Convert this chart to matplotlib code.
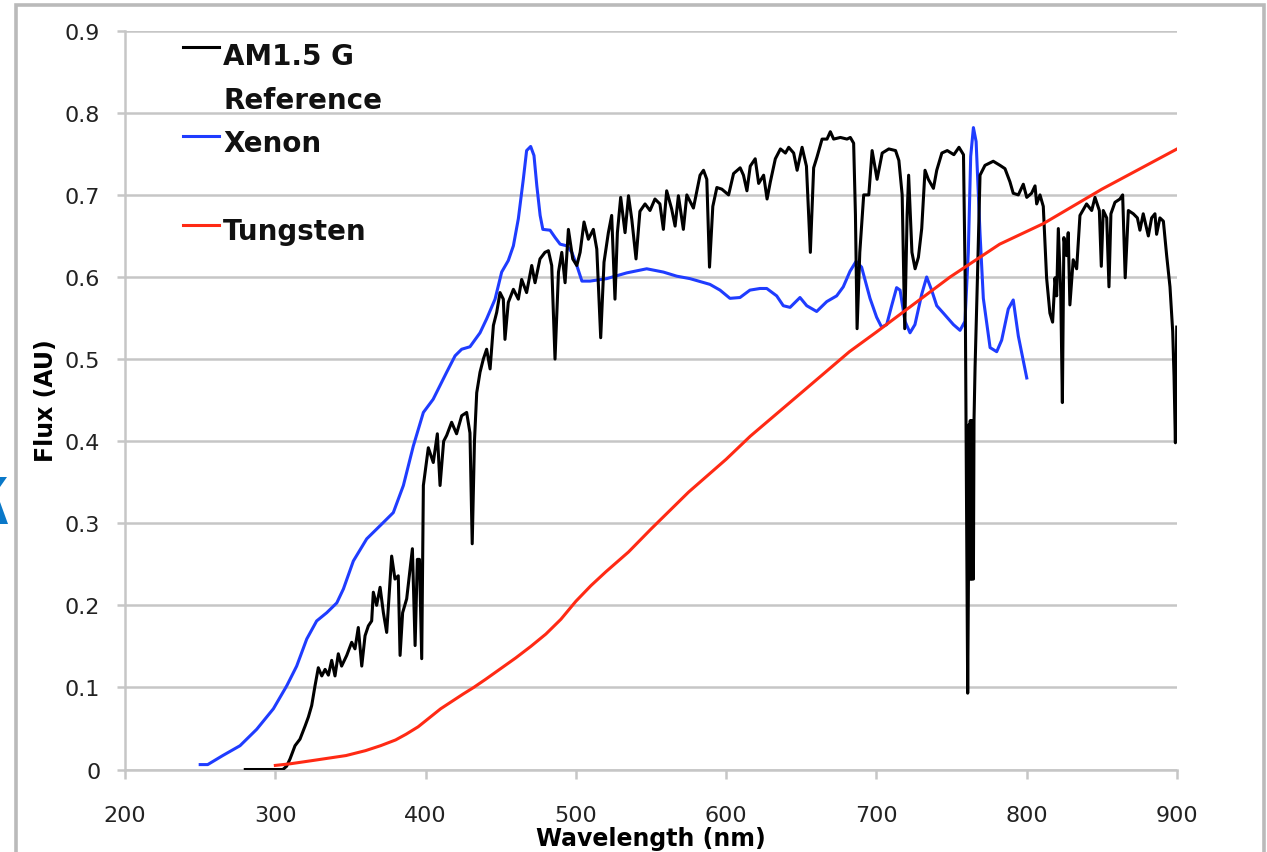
import matplotlib
matplotlib.use("Agg")
import matplotlib.pyplot as plt
from matplotlib.patches import Polygon

plt.rcParams['font.family'] = ['DejaVu Sans']

wl_ticks = [200, 300, 400, 500, 600, 700, 800, 900]
flux_ticks = [0, 0.1, 0.2, 0.3, 0.4, 0.5, 0.6, 0.7, 0.8, 0.9]
flux_tick_labels = ["0", "0.1", "0.2", "0.3", "0.4", "0.5", "0.6", "0.7", "0.8", "0.9"]

# AM1.5 G reference spectrum
am15_nm = [
    280, 305, 307.5, 309.8, 313.1, 316.4, 319.8, 322, 324.2, 326.4,
    328.6, 330.9, 333.1, 335.3, 337.5, 339.7, 341.9, 344.1, 347.5, 350.8,
    353, 355.2, 357.5, 359.7, 361.9, 364.1, 365.2, 367.4, 369.7, 371.9,
    374.1, 377.4, 379.6, 381.8, 383, 384.7, 387.4, 389.6, 391.2, 393,
    394.5, 395.9, 397.4, 398.5, 401.8, 405.1, 407.8, 409.6, 412, 414,
    417.3, 420.6, 424, 427.3, 429.5, 431, 432.5, 434, 436.2, 438.4,
    440.6, 442.9, 445.1, 447.3, 449.5, 451.7, 452.8, 455, 458.4, 461.7,
    463.9, 467.2, 470.6, 472.8, 476.1, 479.4, 481.7, 483.9, 486.1, 488.4,
    490.6, 492.8, 495, 497.9, 500.6, 502.8, 505.4, 508.3, 511.6, 513.9,
    516.5, 518.7, 521.6, 523.8, 526, 527.6, 529.8, 532.7, 535, 537.2,
    540, 542.6, 546, 549.3, 552.6, 555.9, 558.2, 560.4, 563.7, 566,
    568.2, 571.5, 573.8, 578.2, 582.6, 584.9, 587.1, 588.9, 591.1, 593.8,
    597.1, 601.6, 604.9, 609.3, 611.5, 613.8, 616, 619.3, 621.6, 624.9,
    627.2, 629.4, 632.7, 636.1, 639.4, 641.6, 644.9, 647.2, 650.5, 653.4,
    656, 658.2, 660.4, 663.8, 667.1, 669.3, 671.5, 676, 680.4, 682.6,
    684.8, 686, 687.1, 688.9, 691.5, 694.9, 697.1, 700.4, 703.8, 708.2,
    712.7, 714.9, 717.1, 718.8, 720.4, 721.4, 723.6, 725.7, 727.9, 730.1,
    732.3, 734.5, 737.9, 740.1, 743.5, 747.1, 751.5, 754.9, 757.9, 759,
    760.1, 760.7, 761.2, 761.6, 762, 762.4, 762.8, 763.2, 763.6, 764,
    764.5, 764.9, 765.6, 767.2, 768.9, 772.2, 777.7, 782.2, 785.5, 788.8,
    791, 794.4, 797.7, 800, 803.2, 805.5, 806.6, 808.8, 811, 813.2,
    815.4, 817.2, 818.8, 819.9, 821, 822.6, 823.7, 824.7, 826.5, 827.6,
    828.7, 830.9, 833.2, 835.4, 839.8, 843.2, 845.4, 848.3, 849.6, 850.9,
    853.2, 854.7, 856, 858.7, 862, 863.8, 865.5, 867.6, 870.9, 873.6,
    875.3, 877.5, 880.9, 883.1, 885.3, 886.4, 888.6, 890.9, 893.1, 895.3,
    897.1, 898, 898.9, 899.8,
]
am15_flux = [
    0, 0, 0.004, 0.013, 0.029, 0.037, 0.053, 0.064, 0.078, 0.102,
    0.124, 0.114, 0.122, 0.115, 0.133, 0.114, 0.141, 0.126, 0.139, 0.155,
    0.147, 0.173, 0.126, 0.163, 0.175, 0.181, 0.216, 0.200, 0.222, 0.191,
    0.167, 0.260, 0.232, 0.236, 0.139, 0.191, 0.208, 0.244, 0.269, 0.151,
    0.256, 0.256, 0.135, 0.346, 0.392, 0.374, 0.409, 0.346, 0.400, 0.407,
    0.423, 0.409, 0.431, 0.435, 0.410, 0.275, 0.400, 0.459, 0.484, 0.500,
    0.512, 0.488, 0.541, 0.557, 0.581, 0.573, 0.524, 0.569, 0.585, 0.573,
    0.597, 0.581, 0.614, 0.593, 0.622, 0.630, 0.632, 0.614, 0.500, 0.606,
    0.630, 0.593, 0.658, 0.622, 0.614, 0.630, 0.667, 0.646, 0.658, 0.634,
    0.526, 0.618, 0.654, 0.675, 0.573, 0.654, 0.697, 0.654, 0.699, 0.670,
    0.622, 0.680, 0.689, 0.681, 0.695, 0.689, 0.658, 0.705, 0.683, 0.662,
    0.699, 0.658, 0.700, 0.684, 0.724, 0.730, 0.719, 0.612, 0.686, 0.709,
    0.707, 0.700, 0.726, 0.733, 0.724, 0.705, 0.735, 0.744, 0.714, 0.724,
    0.695, 0.716, 0.744, 0.756, 0.751, 0.758, 0.751, 0.730, 0.758, 0.735,
    0.630, 0.733, 0.746, 0.768, 0.768, 0.777, 0.768, 0.770, 0.768, 0.770,
    0.763, 0.676, 0.537, 0.630, 0.700, 0.700, 0.754, 0.719, 0.751, 0.756,
    0.754, 0.742, 0.700, 0.537, 0.676, 0.724, 0.630, 0.610, 0.624, 0.659,
    0.730, 0.719, 0.708, 0.730, 0.751, 0.754, 0.749, 0.758, 0.749, 0.599,
    0.273, 0.093, 0.232, 0.420, 0.232, 0.425, 0.232, 0.425, 0.232, 0.425,
    0.232, 0.425, 0.490, 0.600, 0.724, 0.736, 0.741, 0.736, 0.732, 0.716,
    0.702, 0.700, 0.713, 0.697, 0.702, 0.711, 0.689, 0.700, 0.686, 0.599,
    0.556, 0.545, 0.599, 0.577, 0.659, 0.582, 0.447, 0.648, 0.626, 0.654,
    0.566, 0.621, 0.610, 0.675, 0.689, 0.681, 0.697, 0.681, 0.613, 0.681,
    0.672, 0.588, 0.677, 0.691, 0.695, 0.700, 0.599, 0.681, 0.677, 0.672,
    0.657, 0.677, 0.650, 0.672, 0.677, 0.652, 0.672, 0.668, 0.626, 0.588,
    0.534, 0.479, 0.398, 0.539,
]

# xenon arc lamp
xenon_nm = [
    250, 255, 265, 276.5, 287.6, 298.7, 307.6, 314.2, 320.9, 327.5,
    334.2, 340.9, 345.3, 351.9, 360.8, 371.9, 378.5, 385.2, 391.8, 398.5,
    405, 414, 419.6, 424, 429.5, 436.2, 440.6, 446.2, 450.6, 455,
    458.4, 461.7, 465, 467.2, 469.9, 472.1, 474, 476.2, 478, 482.8,
    486.2, 489.5, 493.9, 497.3, 500.6, 504, 509.4, 520.5, 533.8, 547.1,
    558.2, 567.1, 575.9, 589.2, 595.9, 602.5, 609.2, 615.8, 622.5, 627,
    633.6, 638, 642.5, 649.1, 653.6, 660.2, 666.9, 673.5, 677.9, 682.4,
    686.4, 690.1, 695.7, 700.1, 703.4, 706.8, 710.1, 713.4, 715.7, 719,
    722.3, 725.6, 730.1, 733.4, 736.7, 740.1, 744.5, 751.2, 755.6, 758.9,
    761.1, 762.7, 764.5, 766.3, 768.9, 771.1, 775.6, 780, 783.3, 787.7,
    791, 794.4, 800,
]
xenon_flux = [
    0.006, 0.006, 0.017, 0.029, 0.049, 0.074, 0.102, 0.126, 0.159, 0.181,
    0.191, 0.203, 0.220, 0.254, 0.281, 0.301, 0.313, 0.346, 0.394, 0.435,
    0.451, 0.484, 0.504, 0.512, 0.515, 0.532, 0.549, 0.573, 0.606, 0.620,
    0.638, 0.671, 0.719, 0.754, 0.759, 0.748, 0.711, 0.675, 0.658, 0.657,
    0.648, 0.640, 0.638, 0.630, 0.614, 0.595, 0.595, 0.598, 0.605, 0.610,
    0.606, 0.601, 0.598, 0.591, 0.584, 0.574, 0.575, 0.584, 0.586, 0.586,
    0.577, 0.565, 0.563, 0.575, 0.565, 0.558, 0.570, 0.577, 0.588, 0.607,
    0.619, 0.612, 0.574, 0.551, 0.539, 0.542, 0.565, 0.587, 0.584, 0.546,
    0.532, 0.542, 0.579, 0.600, 0.584, 0.565, 0.556, 0.542, 0.535, 0.546,
    0.630, 0.747, 0.782, 0.765, 0.653, 0.574, 0.514, 0.509, 0.523, 0.561,
    0.572, 0.528, 0.477,
]

# tungsten halogen lamp
tungsten_nm = [
    300, 310, 325, 347, 360, 370, 380, 387, 395, 410,
    425, 432, 440, 450, 460, 470, 480, 490, 500, 510,
    520, 535, 550, 575, 600, 616, 650, 682, 700, 749,
    782, 811, 850, 900,
]
tungsten_flux = [
    0.005, 0.007, 0.011, 0.017, 0.023, 0.029, 0.036, 0.043, 0.052, 0.074,
    0.092, 0.100, 0.110, 0.123, 0.136, 0.150, 0.165, 0.183, 0.205, 0.224,
    0.241, 0.265, 0.293, 0.338, 0.378, 0.406, 0.459, 0.509, 0.533, 0.600,
    0.640, 0.665, 0.707, 0.756,
]

black = '#000000'
blue = '#1f3cff'
red = '#ff2a14'
grid_gray = '#c6c6c6'

W, H = 1267, 853
fig = plt.figure(figsize=(12.67, 8.53), dpi=100)

# full-figure canvas in pixel units for the window frame
bg = fig.add_axes([0, 0, 1, 1], zorder=0)
bg.set_xlim(0, W)
bg.set_ylim(H, 0)
bg.axis('off')
bg.plot([16, 16, 1264, 1264], [H + 10, 6, 6, H + 10], color='#bababa',
        lw=2.6, solid_joinstyle='miter')
bg.add_patch(Polygon([(0, 478), (7, 478), (0, 488)], closed=True,
                     color='#0a78c8', lw=0))
bg.add_patch(Polygon([(0, 503), (0, 525), (8, 525)], closed=True,
                     color='#0a78c8', lw=0))

ax = fig.add_axes([0.0987, 0.0967, 0.8303, 0.8661], zorder=1)
ax.patch.set_alpha(0)

ax.plot(xenon_nm, xenon_flux, color=blue, lw=2.2, zorder=3)
ax.plot(am15_nm, am15_flux, color=black, lw=2.2, zorder=4)
ax.plot(tungsten_nm, tungsten_flux, color=red, lw=2.2, zorder=5)

ax.set_xlim(200, 900)
ax.set_ylim(0, 0.9)
ax.set_xticks(wl_ticks)
ax.set_yticks(flux_ticks)
ax.set_yticklabels(flux_tick_labels)

ax.yaxis.grid(True, color=grid_gray, lw=1.8)
ax.set_axisbelow(True)
for side in ['top', 'right']:
    ax.spines[side].set_visible(False)
for side in ['left', 'bottom']:
    ax.spines[side].set_color(grid_gray)
    ax.spines[side].set_linewidth(1.8)

ax.tick_params(axis='y', length=5.8, width=1.8, color=grid_gray, pad=12,
               labelsize=16, labelcolor='#222222')
ax.tick_params(axis='x', length=6.5, width=1.8, color=grid_gray, pad=19,
               labelsize=16, labelcolor='#222222')

ax.set_xlabel('Wavelength (nm)', fontsize=17, fontweight='bold', labelpad=0.5)
ax.set_ylabel('Flux (AU)', fontsize=17, fontweight='bold', labelpad=5)

# legend drawn by hand in axes fraction
def ax_x(px):
    return (px - 125) / 1052.0

def ax_y(py):
    return (770.5 - py) / 738.8

legend_rows = [(black, 48, ['AM1.5 G', 'Reference'], [65, 109]),
               (blue, 137, ['Xenon'], [152]),
               (red, 226, ['Tungsten'], [240])]
for color, hy, lines, baselines in legend_rows:
    ax.plot([ax_x(183), ax_x(219)], [ax_y(hy), ax_y(hy)], color=color,
            lw=2.2, transform=ax.transAxes, clip_on=False, zorder=6)
    for txt, by in zip(lines, baselines):
        ax.text(ax_x(223), ax_y(by), txt, transform=ax.transAxes,
                fontsize=20, fontweight='bold', va='baseline', ha='left',
                color='#111111', zorder=6)

fig.savefig('out.png', dpi=100)
